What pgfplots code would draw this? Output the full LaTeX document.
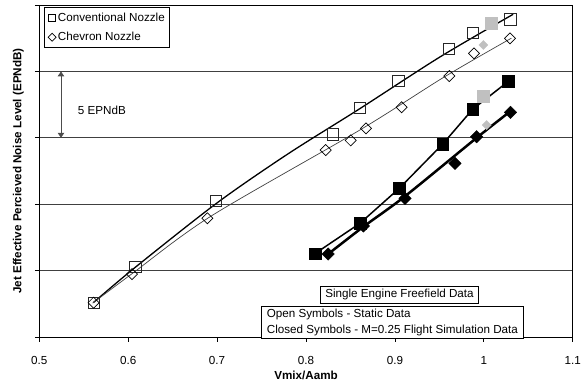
\documentclass[border=0pt]{standalone}
\usepackage{fontspec}
\setmainfont{Liberation Sans}
\usepackage{pgfplots}
\pgfplotsset{compat=1.18}
\usetikzlibrary{arrows.meta}
\definecolor{silver}{RGB}{192,192,192}
\newcommand{\fs}{\fontsize{11.7}{14}\selectfont}
\begin{document}
\begin{tikzpicture}[font=\fs]
\useasboundingbox (-39.3bp,-48bp) rectangle (547.7bp,337bp);
\begin{axis}[
  scale only axis, width=533.4bp, height=332bp,
  xmin=0.5, xmax=1.1, ymin=0, ymax=25,
  xtick={0.5,0.6,0.7,0.8,0.9,1.0,1.1},
  xticklabels={0.5,0.6,0.7,0.8,0.9,1,1.1},
  ytick={0,5,10,15,20,25}, yticklabels={},
  xtick pos=bottom, ytick pos=left,
  tick align=outside, major tick length=4.5bp,
  tick style={black, line width=0.7bp},
  ymajorgrids, grid style={black!75, line width=0.7bp},
  axis line style={black, line width=0.9bp},
  clip=false,
  font=\fs,
  tick label style={font=\fs},
  xticklabel style={anchor=center, yshift=-18.7bp},
  /pgf/number format/assume math mode=true,
  legend style={at={(rel axis cs:0.0094,0.9931)}, anchor=north west,
    draw=black, line width=0.8bp, fill=white,
    inner xsep=3bp, inner ysep=3.5bp, row sep=6.6bp,
    nodes={inner sep=1.5bp}, font=\fs},
  legend cell align=left,
]
% legend
\addlegendimage{legend image code/.code={\draw[black,line width=0.7bp] (0bp,-3.8bp) rectangle (7.6bp,3.8bp);}}
\addlegendentry{Conventional Nozzle}
\addlegendimage{legend image code/.code={\draw[black,line width=0.7bp] (0bp,0bp) -- (4bp,4bp) -- (8bp,0bp) -- (4bp,-4bp) -- cycle;}}
\addlegendentry{Chevron Nozzle}

% gray markers
\addplot[forget plot, only marks, mark=square*, mark size=6bp, mark options={fill=silver, draw=silver}]
  coordinates {(1.0078,23.62) (0.9995,18.15)};
\addplot[forget plot, only marks, mark=square*, mark size=3.2bp, mark options={fill=silver, draw=silver, rotate=45}]
  coordinates {(0.9995,21.99) (1.0033,15.96)};

% static trend lines
\addplot[forget plot, black, line width=1.3bp, smooth]
  coordinates {(0.561,2.6) (0.608,5.25) (0.70,10.1) (0.78,13.8) (0.8607,17.2) (0.951,21.1) (1.033,24.3)};
\addplot[forget plot, black!75, line width=0.7bp, smooth]
  coordinates {(0.56,2.55) (0.604,4.75) (0.6922,9.06) (0.8607,15.59) (0.956,19.6) (1.031,22.5)};

% static markers
\addplot[forget plot, only marks, mark=square, mark size=5.6bp, mark options={draw=black!85, line width=0.8bp}]
  coordinates {(0.561,2.54) (0.608,5.25) (0.699,10.24) (0.830,15.26) (0.861,17.27) (0.904,19.28) (0.961,21.72) (0.988,22.90) (1.030,23.92)};
\addplot[forget plot, only marks, mark=square, mark size=3.9bp, mark options={draw=black, line width=0.7bp, rotate=45}]
  coordinates {(0.561,2.58) (0.6043,4.74) (0.689,8.94) (0.8222,14.08) (0.8503,14.80) (0.8675,15.71) (0.9076,17.30) (0.9612,19.65) (0.989,21.36) (1.0295,22.49)};

% flight conventional
\addplot[forget plot, black, line width=1.5bp, mark=square*, mark size=5.8bp, mark options={fill=black, line width=0.5bp}]
  coordinates {(0.8101,6.28) (0.8607,8.56) (0.9050,11.20) (0.9538,14.53) (0.9875,17.15) (1.0276,19.25)};

% flight chevron trend
\addplot[forget plot, black, line width=2.5bp, smooth]
  coordinates {(0.825,6.25) (0.8645,8.3) (0.9114,10.6) (0.992,15.0) (1.030,17.0)};
\addplot[forget plot, only marks, mark=square*, mark size=4.4bp, mark options={fill=black, rotate=45}]
  coordinates {(0.825,6.25) (0.8645,8.36) (0.9114,10.44) (0.9676,13.08) (0.992,15.08) (1.030,16.92)};

% annotations
\draw[{Triangle[length=5bp,width=6.5bp]}-{Triangle[length=5bp,width=6.5bp]}, line width=0.8bp, black!70]
  (axis cs:0.5244,15) -- (axis cs:0.5244,20);
\node[anchor=west, inner sep=0pt] at (axis cs:0.5432,17.04) {5 EPNdB};
\node[draw=black, line width=0.8bp, fill=white, minimum width=157.6bp, minimum height=17.3bp, inner sep=0pt]
  at (axis cs:0.9052,3.185) {Single Engine Freefield Data};
\node[draw=black, line width=0.8bp, fill=white, anchor=north west, minimum width=262bp, minimum height=32.3bp,
  inner sep=0pt, align=left, font=\fontsize{11.7}{15.6}\selectfont]
  at (axis cs:0.7494,2.357) {Open Symbols - Static Data\\Closed Symbols - M=0.25 Flight Simulation Data};
% axis labels
\node[rotate=90, font=\fs\bfseries] at (axis description cs:-0.0394,0.5) {Jet Effective Percieved Noise Level (EPNdB)};
\node[font=\fs\bfseries] at (axis description cs:0.5,-0.1145) {Vmix/Aamb};
\end{axis}
\end{tikzpicture}
\end{document}
